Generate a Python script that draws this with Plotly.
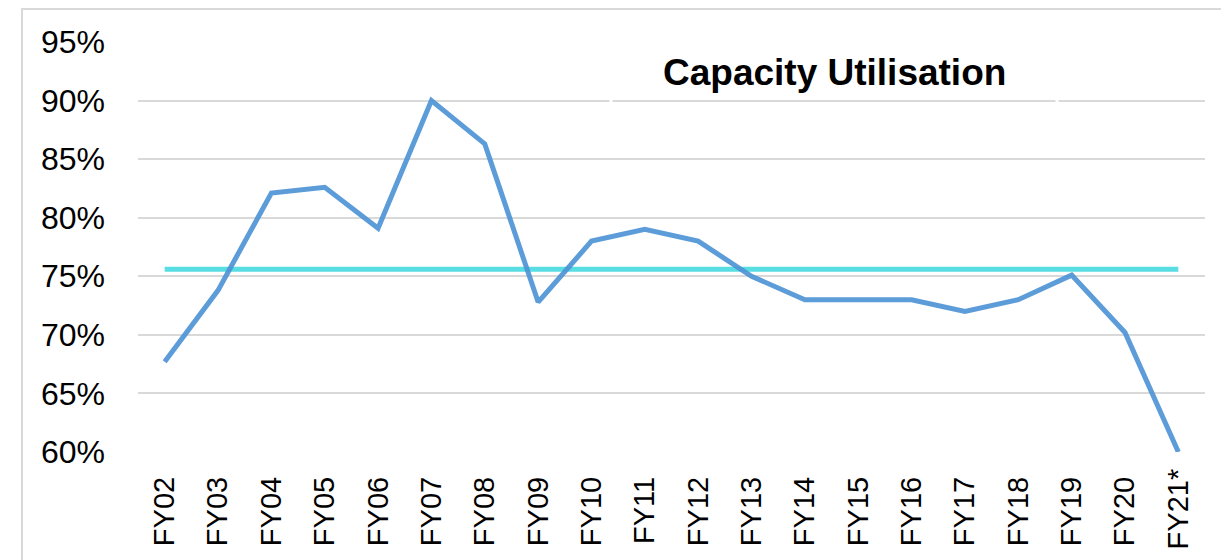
import plotly.graph_objects as go

# ---- data ----
categories = ["FY02", "FY03", "FY04", "FY05", "FY06", "FY07", "FY08", "FY09", "FY10", "FY11",
              "FY12", "FY13", "FY14", "FY15", "FY16", "FY17", "FY18", "FY19", "FY20", "FY21*"]
utilisation = [67.7, 73.8, 82.1, 82.6, 79.1, 90.0, 86.3, 72.8, 78.0, 79.0,
               78.0, 75.0, 73.0, 73.0, 73.0, 72.0, 73.0, 75.1, 70.2, 60.0]
average_value = 75.6
y_ticks = [60, 65, 70, 75, 80, 85, 90, 95]
title_text = "Capacity Utilisation"

# pad labels without the asterisk so all labels share the same bottom edge
tick_text = [c if c.endswith("*") else c + "\u00a0" for c in categories]
y_tick_text = [f"{v}%" for v in y_ticks]

fig = go.Figure()
fig.add_trace(go.Scatter(
    x=categories, y=[average_value] * len(categories), mode="lines",
    line=dict(color="#58DDE2", width=5), hoverinfo="skip", showlegend=False,
))
fig.add_trace(go.Scatter(
    x=categories, y=utilisation, mode="lines",
    line=dict(color="#4E94D6", width=5), opacity=0.92, showlegend=False,
))

# page body has an 8px margin, so the figure is sized to fit the window exactly
fig.update_layout(
    width=1221, height=552,
    margin=dict(l=130, r=24, t=34, b=108, autoexpand=False),
    paper_bgcolor="white", plot_bgcolor="white",
    xaxis=dict(
        type="category", range=[-0.5, len(categories) - 0.5],
        tickmode="array", tickvals=categories, ticktext=tick_text,
        tickangle=-90, showgrid=False, showline=False, zeroline=False, ticks="",
        tickfont=dict(family="Liberation Sans, Arial, sans-serif", size=29, color="black"),
        ticklabelstandoff=10, automargin=False,
    ),
    yaxis=dict(
        range=[60, 95], tickmode="array", tickvals=y_ticks, ticktext=y_tick_text,
        showgrid=True, gridcolor="#D9D9D9", gridwidth=1.5, zeroline=False,
        showline=False, ticks="",
        tickfont=dict(family="Liberation Sans, Arial, sans-serif", size=32, color="black"),
        ticklabelstandoff=32, automargin=False,
    ),
    annotations=[
        dict(text="<b>" + title_text + "</b>", xref="paper", yref="paper",
             x=0.6523, y=0.9244, xanchor="center", yanchor="middle", showarrow=False,
             font=dict(family="Liberation Sans, Arial, sans-serif", size=37, color="black")),
    ],
    shapes=[
        # outer chart border (cropped Excel chart frame)
        dict(type="rect", xref="paper", yref="paper", x0=-0.1087, x1=1.05, y0=-0.3, y1=1.0805,
             line=dict(color="#D9D9D9", width=2), fillcolor="rgba(0,0,0,0)", layer="above"),
        # title box edges interrupting the gridlines
        dict(type="rect", xref="paper", yref="paper", x0=0.4433, x1=0.8613, y0=0.83, y1=1.02,
             line=dict(color="white", width=3), fillcolor="rgba(0,0,0,0)", layer="above"),
    ],
)

fig.write_html("out.html")
